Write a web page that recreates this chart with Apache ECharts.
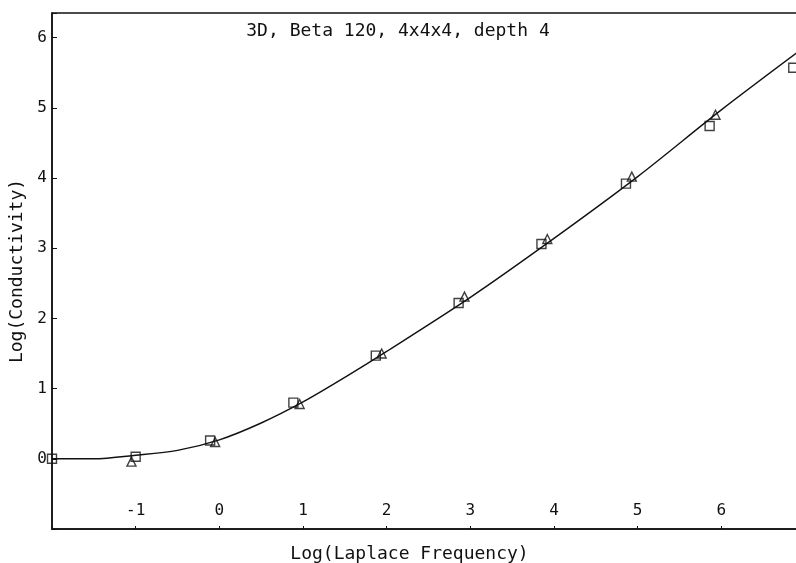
<!DOCTYPE html>
<html>
<head>
<meta charset="utf-8">
<script src="https://cdn.jsdelivr.net/npm/echarts@6/dist/echarts.min.js"></script>
<style>html,body{margin:0;padding:0;background:#fff}#c{width:796px;height:563px}</style>
</head>
<body>
<div id="c"></div>
<script>
var titleText = '3D, Beta 120, 4x4x4, depth 4';
var xName = 'Log(Laplace Frequency)';
var yName = 'Log(Conductivity)';

var fitX = [-2, -1.5, -1, -0.5, 0, 0.5, 1, 1.5, 2, 3, 4, 5, 6, 7];
var fitY = [0.0, 0.0, 0.05, 0.12, 0.27, 0.51, 0.81, 1.16, 1.53, 2.30, 3.14, 4.02, 4.97, 5.87];

var squareX = [-2, -1.0, -0.11, 0.885, 1.87, 2.86, 3.85, 4.86, 5.86, 6.86];
var squareY = [0, 0.03, 0.26, 0.80, 1.47, 2.22, 3.06, 3.92, 4.74, 5.57];

var triX = [-1.05, -0.05, 0.96, 1.94, 2.93, 3.92, 4.93, 5.93];
var triY = [-0.04, 0.24, 0.78, 1.50, 2.31, 3.13, 4.02, 4.90];

function pairs(xs, ys) { return xs.map(function (x, i) { return [x, ys[i]]; }); }

var font = 'DejaVu Sans Mono';
var chart = echarts.init(document.getElementById('c'), null, {renderer: 'canvas'});
chart.setOption({
  animation: false,
  backgroundColor: '#fff',
  title: {
    text: titleText, left: 'center', top: 17,
    textStyle: {fontFamily: font, fontSize: 18, fontWeight: 'normal', color: '#111'}
  },
  grid: {
    left: 52, top: 13, width: 753, height: 516,
    outerBoundsMode: 'none', containLabel: false,
    show: true, borderColor: '#111', borderWidth: 1.5, backgroundColor: 'transparent'
  },
  xAxis: {
    type: 'value', min: -2, max: 7, interval: 1,
    name: xName, nameLocation: 'middle', nameGap: 16,
    nameTextStyle: {fontFamily: font, fontSize: 18, color: '#111', padding: [0, 38, 0, 0]},
    axisLine: {show: true, onZero: false, lineStyle: {color: '#111', width: 1.5}},
    axisTick: {show: true, inside: true, length: 3, lineStyle: {color: '#111'}},
    axisLabel: {
      inside: true, margin: 10, fontFamily: font, fontSize: 16, color: '#111',
      formatter: function (v) { return (v <= -2 || v >= 7 || v !== Math.round(v)) ? '' : String(v); }
    },
    splitLine: {show: false}
  },
  yAxis: {
    type: 'value', min: -1, max: 6.35, interval: 1,
    name: yName, nameLocation: 'middle', nameGap: 24, nameRotate: 90,
    nameTextStyle: {fontFamily: font, fontSize: 18, color: '#111'},
    axisLine: {show: true, onZero: false, lineStyle: {color: '#111', width: 1.5}},
    axisTick: {show: true, inside: true, length: 5, lineStyle: {color: '#111'}},
    axisLabel: {
      margin: 5, fontFamily: font, fontSize: 16, color: '#111',
      formatter: function (v) { return (v === -1 || v !== Math.round(v)) ? '' : String(v); }
    },
    splitLine: {show: false}
  },
  series: [
    {
      type: 'line', data: pairs(fitX, fitY), smooth: 0.3, showSymbol: false,
      lineStyle: {color: '#111', width: 1.4}, z: 2
    },
    {
      type: 'scatter', data: pairs(squareX, squareY), symbol: 'rect', symbolSize: 9,
      itemStyle: {color: 'transparent', borderColor: '#111', borderWidth: 1.4}, z: 3
    },
    {
      type: 'scatter', data: pairs(triX, triY), symbol: 'triangle', symbolSize: 9,
      itemStyle: {color: 'transparent', borderColor: '#111', borderWidth: 1.4}, z: 3
    }
  ]
});
</script>
</body>
</html>
